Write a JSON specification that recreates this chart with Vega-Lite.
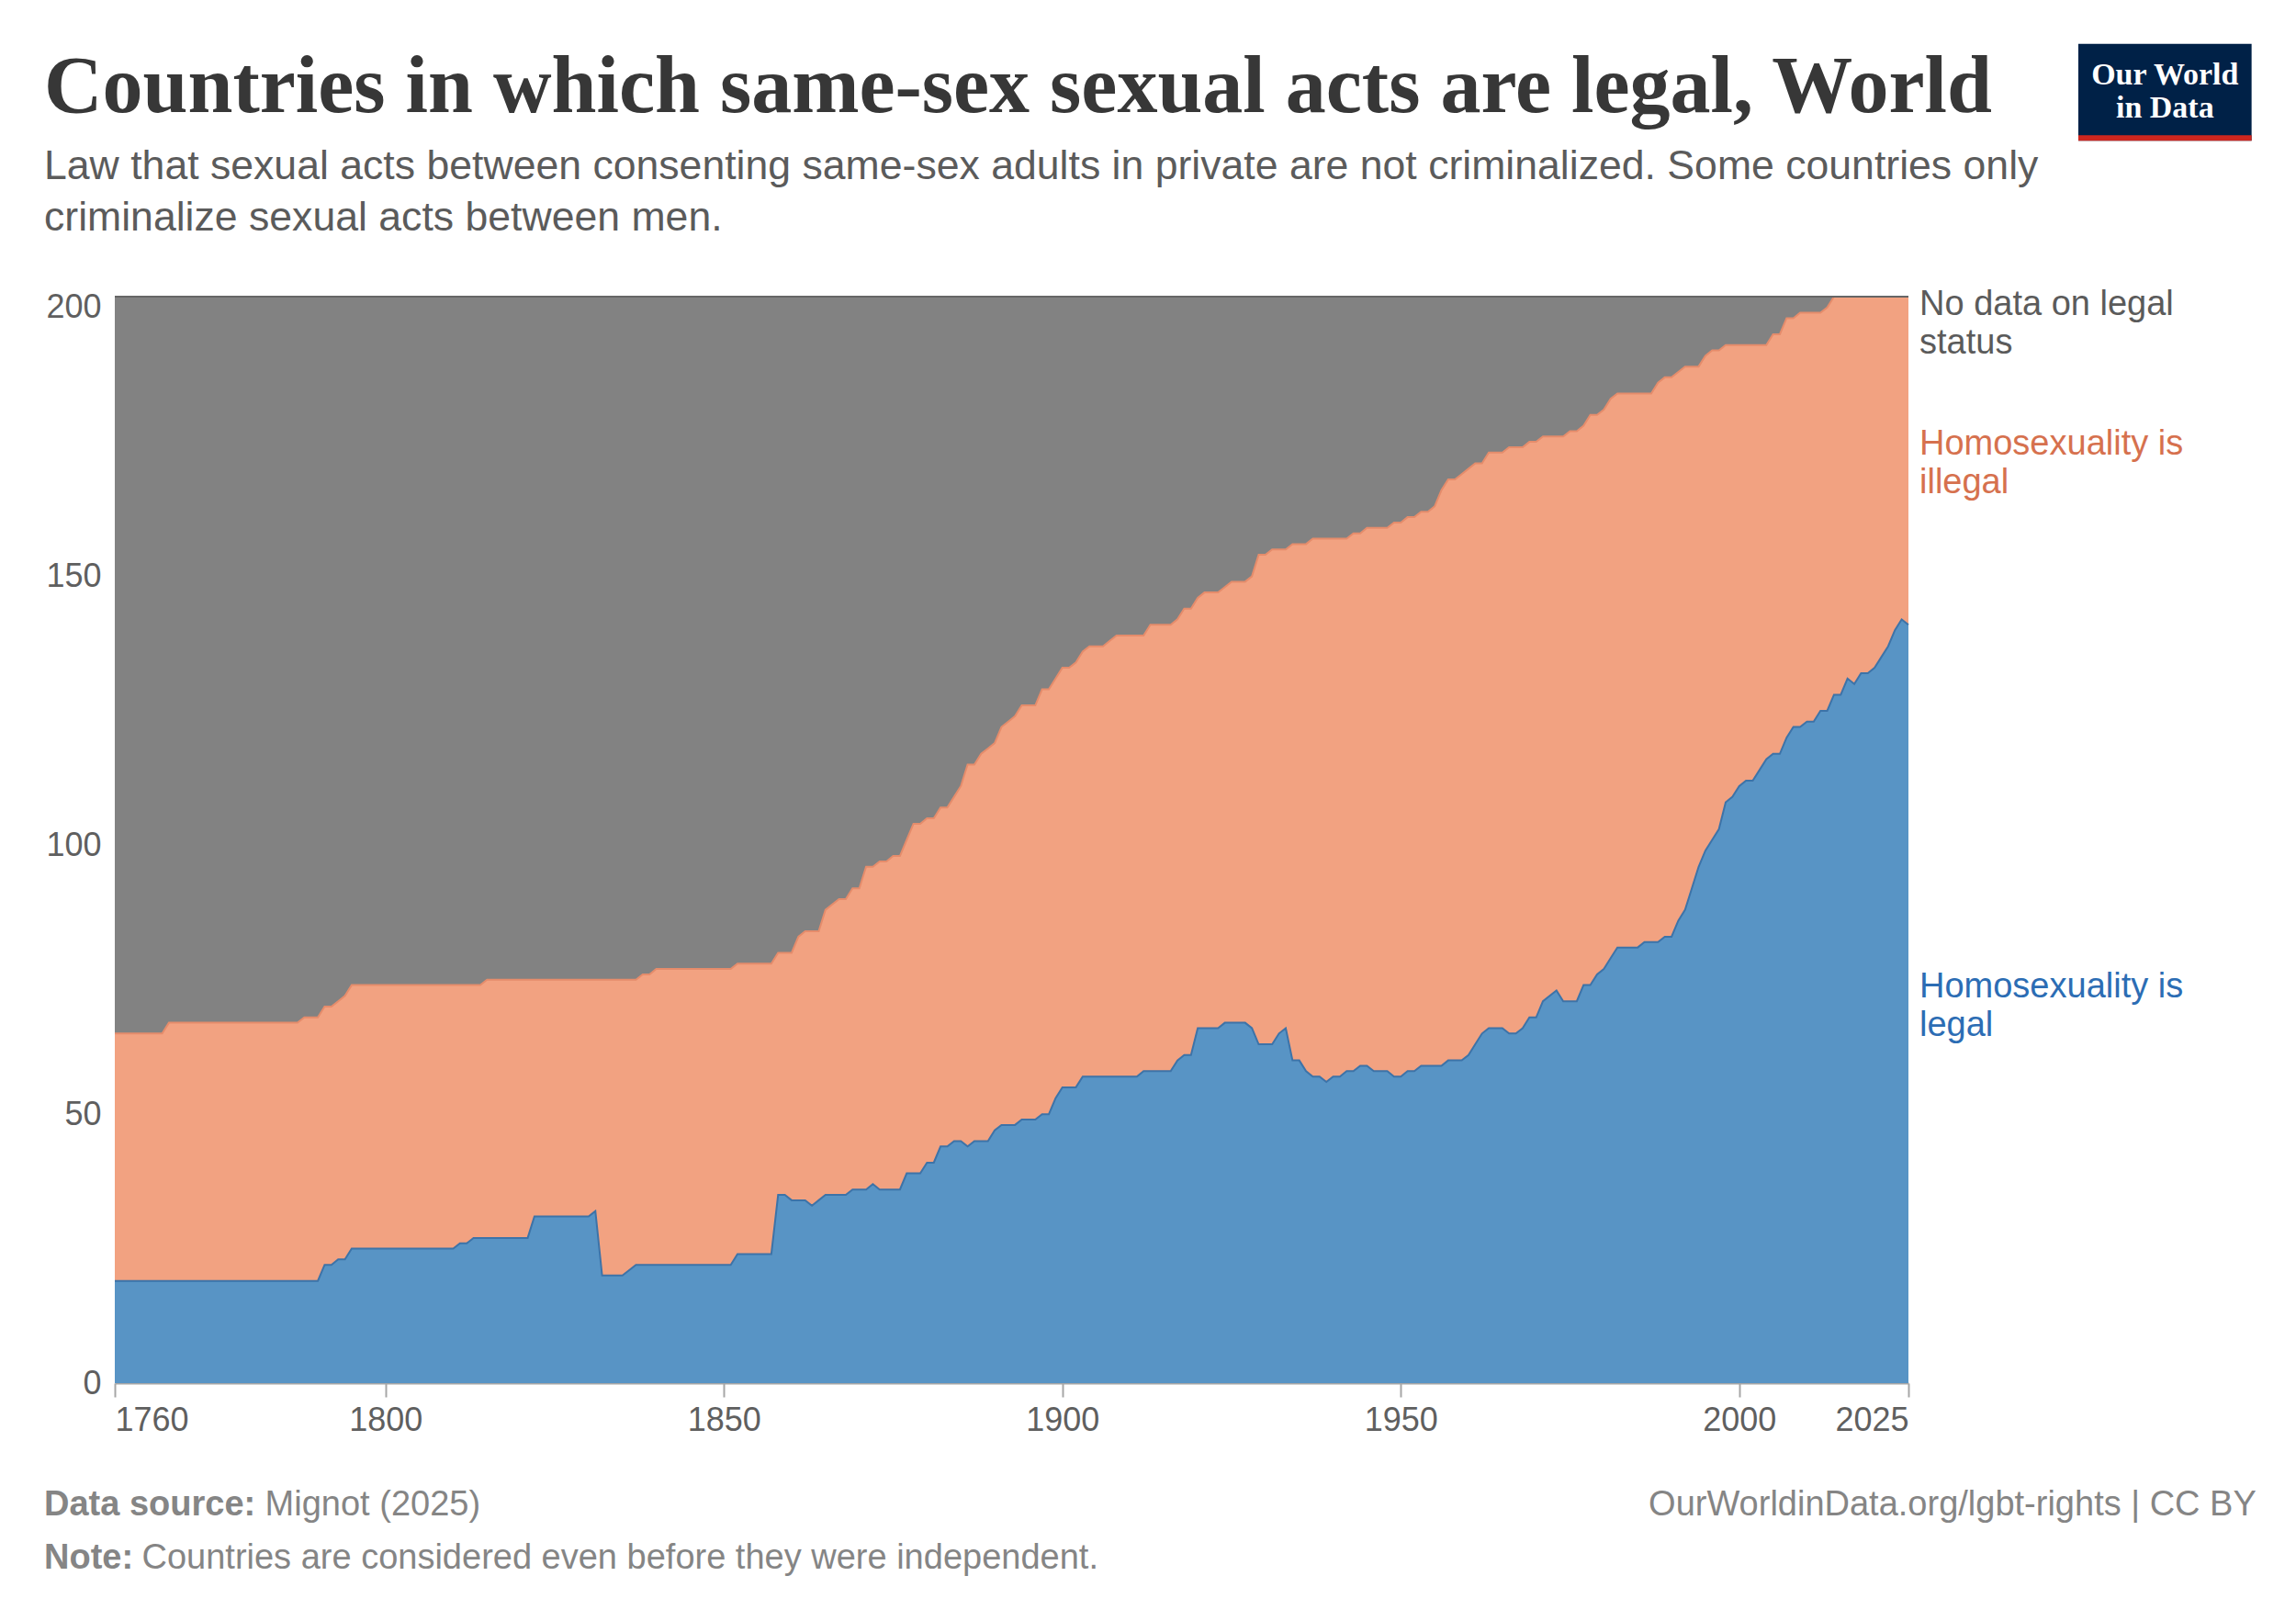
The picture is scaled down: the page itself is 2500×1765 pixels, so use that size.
{
  "$schema": "https://vega.github.io/schema/vega-lite/v6.json",
  "width": 1953,
  "height": 1183,
  "autosize": "none",
  "padding": {"left": 125, "top": 323, "right": 422, "bottom": 259},
  "background": "white",
  "config": {
    "view": {"stroke": null},
    "font": "Liberation Sans",
    "axis": {"labelFont": "Liberation Sans", "labelFontSize": 36, "labelColor": "#5f5f5f"},
    "axisX": {"grid": false, "domainColor": "#a6a6a6", "domainWidth": 2, "tickColor": "#a6a6a6", "tickWidth": 2, "tickSize": 15, "labelPadding": 8, "labelFlush": true, "labelOverlap": false},
    "axisY": {"domain": false, "ticks": false, "labelPadding": 15, "gridDash": [11, 11], "gridColor": "#000000", "gridOpacity": 0.1, "zindex": 1}
  },
  "title": {
    "text": "Countries in which same-sex sexual acts are legal, World",
    "subtitle": ["Law that sexual acts between consenting same-sex adults in private are not criminalized. Some countries only", "criminalize sexual acts between men."],
    "anchor": "start",
    "frame": "group",
    "dx": -77,
    "dy": 212,
    "offset": 0,
    "font": "Liberation Serif",
    "fontSize": 88,
    "fontWeight": "bold",
    "color": "#373737",
    "subtitleFont": "Liberation Sans",
    "subtitleFontSize": 44.6,
    "subtitleColor": "#5b5b5b",
    "subtitleLineHeight": 56,
    "subtitlePadding": 20
  },
  "datasets": {
    "rows": [
      {"year": 1760, "legal": 19, "illegal": 46, "nodata": 137},
      {"year": 1761, "legal": 19, "illegal": 46, "nodata": 137},
      {"year": 1762, "legal": 19, "illegal": 46, "nodata": 137},
      {"year": 1763, "legal": 19, "illegal": 46, "nodata": 137},
      {"year": 1764, "legal": 19, "illegal": 46, "nodata": 137},
      {"year": 1765, "legal": 19, "illegal": 46, "nodata": 137},
      {"year": 1766, "legal": 19, "illegal": 46, "nodata": 137},
      {"year": 1767, "legal": 19, "illegal": 46, "nodata": 137},
      {"year": 1768, "legal": 19, "illegal": 48, "nodata": 135},
      {"year": 1769, "legal": 19, "illegal": 48, "nodata": 135},
      {"year": 1770, "legal": 19, "illegal": 48, "nodata": 135},
      {"year": 1771, "legal": 19, "illegal": 48, "nodata": 135},
      {"year": 1772, "legal": 19, "illegal": 48, "nodata": 135},
      {"year": 1773, "legal": 19, "illegal": 48, "nodata": 135},
      {"year": 1774, "legal": 19, "illegal": 48, "nodata": 135},
      {"year": 1775, "legal": 19, "illegal": 48, "nodata": 135},
      {"year": 1776, "legal": 19, "illegal": 48, "nodata": 135},
      {"year": 1777, "legal": 19, "illegal": 48, "nodata": 135},
      {"year": 1778, "legal": 19, "illegal": 48, "nodata": 135},
      {"year": 1779, "legal": 19, "illegal": 48, "nodata": 135},
      {"year": 1780, "legal": 19, "illegal": 48, "nodata": 135},
      {"year": 1781, "legal": 19, "illegal": 48, "nodata": 135},
      {"year": 1782, "legal": 19, "illegal": 48, "nodata": 135},
      {"year": 1783, "legal": 19, "illegal": 48, "nodata": 135},
      {"year": 1784, "legal": 19, "illegal": 48, "nodata": 135},
      {"year": 1785, "legal": 19, "illegal": 48, "nodata": 135},
      {"year": 1786, "legal": 19, "illegal": 48, "nodata": 135},
      {"year": 1787, "legal": 19, "illegal": 48, "nodata": 135},
      {"year": 1788, "legal": 19, "illegal": 49, "nodata": 134},
      {"year": 1789, "legal": 19, "illegal": 49, "nodata": 134},
      {"year": 1790, "legal": 19, "illegal": 49, "nodata": 134},
      {"year": 1791, "legal": 22, "illegal": 48, "nodata": 132},
      {"year": 1792, "legal": 22, "illegal": 48, "nodata": 132},
      {"year": 1793, "legal": 23, "illegal": 48, "nodata": 131},
      {"year": 1794, "legal": 23, "illegal": 49, "nodata": 130},
      {"year": 1795, "legal": 25, "illegal": 49, "nodata": 128},
      {"year": 1796, "legal": 25, "illegal": 49, "nodata": 128},
      {"year": 1797, "legal": 25, "illegal": 49, "nodata": 128},
      {"year": 1798, "legal": 25, "illegal": 49, "nodata": 128},
      {"year": 1799, "legal": 25, "illegal": 49, "nodata": 128},
      {"year": 1800, "legal": 25, "illegal": 49, "nodata": 128},
      {"year": 1801, "legal": 25, "illegal": 49, "nodata": 128},
      {"year": 1802, "legal": 25, "illegal": 49, "nodata": 128},
      {"year": 1803, "legal": 25, "illegal": 49, "nodata": 128},
      {"year": 1804, "legal": 25, "illegal": 49, "nodata": 128},
      {"year": 1805, "legal": 25, "illegal": 49, "nodata": 128},
      {"year": 1806, "legal": 25, "illegal": 49, "nodata": 128},
      {"year": 1807, "legal": 25, "illegal": 49, "nodata": 128},
      {"year": 1808, "legal": 25, "illegal": 49, "nodata": 128},
      {"year": 1809, "legal": 25, "illegal": 49, "nodata": 128},
      {"year": 1810, "legal": 25, "illegal": 49, "nodata": 128},
      {"year": 1811, "legal": 26, "illegal": 48, "nodata": 128},
      {"year": 1812, "legal": 26, "illegal": 48, "nodata": 128},
      {"year": 1813, "legal": 27, "illegal": 47, "nodata": 128},
      {"year": 1814, "legal": 27, "illegal": 47, "nodata": 128},
      {"year": 1815, "legal": 27, "illegal": 48, "nodata": 127},
      {"year": 1816, "legal": 27, "illegal": 48, "nodata": 127},
      {"year": 1817, "legal": 27, "illegal": 48, "nodata": 127},
      {"year": 1818, "legal": 27, "illegal": 48, "nodata": 127},
      {"year": 1819, "legal": 27, "illegal": 48, "nodata": 127},
      {"year": 1820, "legal": 27, "illegal": 48, "nodata": 127},
      {"year": 1821, "legal": 27, "illegal": 48, "nodata": 127},
      {"year": 1822, "legal": 31, "illegal": 44, "nodata": 127},
      {"year": 1823, "legal": 31, "illegal": 44, "nodata": 127},
      {"year": 1824, "legal": 31, "illegal": 44, "nodata": 127},
      {"year": 1825, "legal": 31, "illegal": 44, "nodata": 127},
      {"year": 1826, "legal": 31, "illegal": 44, "nodata": 127},
      {"year": 1827, "legal": 31, "illegal": 44, "nodata": 127},
      {"year": 1828, "legal": 31, "illegal": 44, "nodata": 127},
      {"year": 1829, "legal": 31, "illegal": 44, "nodata": 127},
      {"year": 1830, "legal": 31, "illegal": 44, "nodata": 127},
      {"year": 1831, "legal": 32, "illegal": 43, "nodata": 127},
      {"year": 1832, "legal": 20, "illegal": 55, "nodata": 127},
      {"year": 1833, "legal": 20, "illegal": 55, "nodata": 127},
      {"year": 1834, "legal": 20, "illegal": 55, "nodata": 127},
      {"year": 1835, "legal": 20, "illegal": 55, "nodata": 127},
      {"year": 1836, "legal": 21, "illegal": 54, "nodata": 127},
      {"year": 1837, "legal": 22, "illegal": 53, "nodata": 127},
      {"year": 1838, "legal": 22, "illegal": 54, "nodata": 126},
      {"year": 1839, "legal": 22, "illegal": 54, "nodata": 126},
      {"year": 1840, "legal": 22, "illegal": 55, "nodata": 125},
      {"year": 1841, "legal": 22, "illegal": 55, "nodata": 125},
      {"year": 1842, "legal": 22, "illegal": 55, "nodata": 125},
      {"year": 1843, "legal": 22, "illegal": 55, "nodata": 125},
      {"year": 1844, "legal": 22, "illegal": 55, "nodata": 125},
      {"year": 1845, "legal": 22, "illegal": 55, "nodata": 125},
      {"year": 1846, "legal": 22, "illegal": 55, "nodata": 125},
      {"year": 1847, "legal": 22, "illegal": 55, "nodata": 125},
      {"year": 1848, "legal": 22, "illegal": 55, "nodata": 125},
      {"year": 1849, "legal": 22, "illegal": 55, "nodata": 125},
      {"year": 1850, "legal": 22, "illegal": 55, "nodata": 125},
      {"year": 1851, "legal": 22, "illegal": 55, "nodata": 125},
      {"year": 1852, "legal": 24, "illegal": 54, "nodata": 124},
      {"year": 1853, "legal": 24, "illegal": 54, "nodata": 124},
      {"year": 1854, "legal": 24, "illegal": 54, "nodata": 124},
      {"year": 1855, "legal": 24, "illegal": 54, "nodata": 124},
      {"year": 1856, "legal": 24, "illegal": 54, "nodata": 124},
      {"year": 1857, "legal": 24, "illegal": 54, "nodata": 124},
      {"year": 1858, "legal": 35, "illegal": 45, "nodata": 122},
      {"year": 1859, "legal": 35, "illegal": 45, "nodata": 122},
      {"year": 1860, "legal": 34, "illegal": 46, "nodata": 122},
      {"year": 1861, "legal": 34, "illegal": 49, "nodata": 119},
      {"year": 1862, "legal": 34, "illegal": 50, "nodata": 118},
      {"year": 1863, "legal": 33, "illegal": 51, "nodata": 118},
      {"year": 1864, "legal": 34, "illegal": 50, "nodata": 118},
      {"year": 1865, "legal": 35, "illegal": 53, "nodata": 114},
      {"year": 1866, "legal": 35, "illegal": 54, "nodata": 113},
      {"year": 1867, "legal": 35, "illegal": 55, "nodata": 112},
      {"year": 1868, "legal": 35, "illegal": 55, "nodata": 112},
      {"year": 1869, "legal": 36, "illegal": 56, "nodata": 110},
      {"year": 1870, "legal": 36, "illegal": 56, "nodata": 110},
      {"year": 1871, "legal": 36, "illegal": 60, "nodata": 106},
      {"year": 1872, "legal": 37, "illegal": 59, "nodata": 106},
      {"year": 1873, "legal": 36, "illegal": 61, "nodata": 105},
      {"year": 1874, "legal": 36, "illegal": 61, "nodata": 105},
      {"year": 1875, "legal": 36, "illegal": 62, "nodata": 104},
      {"year": 1876, "legal": 36, "illegal": 62, "nodata": 104},
      {"year": 1877, "legal": 39, "illegal": 62, "nodata": 101},
      {"year": 1878, "legal": 39, "illegal": 65, "nodata": 98},
      {"year": 1879, "legal": 39, "illegal": 65, "nodata": 98},
      {"year": 1880, "legal": 41, "illegal": 64, "nodata": 97},
      {"year": 1881, "legal": 41, "illegal": 64, "nodata": 97},
      {"year": 1882, "legal": 44, "illegal": 63, "nodata": 95},
      {"year": 1883, "legal": 44, "illegal": 63, "nodata": 95},
      {"year": 1884, "legal": 45, "illegal": 64, "nodata": 93},
      {"year": 1885, "legal": 45, "illegal": 66, "nodata": 91},
      {"year": 1886, "legal": 44, "illegal": 71, "nodata": 87},
      {"year": 1887, "legal": 45, "illegal": 70, "nodata": 87},
      {"year": 1888, "legal": 45, "illegal": 72, "nodata": 85},
      {"year": 1889, "legal": 45, "illegal": 73, "nodata": 84},
      {"year": 1890, "legal": 47, "illegal": 72, "nodata": 83},
      {"year": 1891, "legal": 48, "illegal": 74, "nodata": 80},
      {"year": 1892, "legal": 48, "illegal": 75, "nodata": 79},
      {"year": 1893, "legal": 48, "illegal": 76, "nodata": 78},
      {"year": 1894, "legal": 49, "illegal": 77, "nodata": 76},
      {"year": 1895, "legal": 49, "illegal": 77, "nodata": 76},
      {"year": 1896, "legal": 49, "illegal": 77, "nodata": 76},
      {"year": 1897, "legal": 50, "illegal": 79, "nodata": 73},
      {"year": 1898, "legal": 50, "illegal": 79, "nodata": 73},
      {"year": 1899, "legal": 53, "illegal": 78, "nodata": 71},
      {"year": 1900, "legal": 55, "illegal": 78, "nodata": 69},
      {"year": 1901, "legal": 55, "illegal": 78, "nodata": 69},
      {"year": 1902, "legal": 55, "illegal": 79, "nodata": 68},
      {"year": 1903, "legal": 57, "illegal": 79, "nodata": 66},
      {"year": 1904, "legal": 57, "illegal": 80, "nodata": 65},
      {"year": 1905, "legal": 57, "illegal": 80, "nodata": 65},
      {"year": 1906, "legal": 57, "illegal": 80, "nodata": 65},
      {"year": 1907, "legal": 57, "illegal": 81, "nodata": 64},
      {"year": 1908, "legal": 57, "illegal": 82, "nodata": 63},
      {"year": 1909, "legal": 57, "illegal": 82, "nodata": 63},
      {"year": 1910, "legal": 57, "illegal": 82, "nodata": 63},
      {"year": 1911, "legal": 57, "illegal": 82, "nodata": 63},
      {"year": 1912, "legal": 58, "illegal": 81, "nodata": 63},
      {"year": 1913, "legal": 58, "illegal": 83, "nodata": 61},
      {"year": 1914, "legal": 58, "illegal": 83, "nodata": 61},
      {"year": 1915, "legal": 58, "illegal": 83, "nodata": 61},
      {"year": 1916, "legal": 58, "illegal": 83, "nodata": 61},
      {"year": 1917, "legal": 60, "illegal": 82, "nodata": 60},
      {"year": 1918, "legal": 61, "illegal": 83, "nodata": 58},
      {"year": 1919, "legal": 61, "illegal": 83, "nodata": 58},
      {"year": 1920, "legal": 66, "illegal": 80, "nodata": 56},
      {"year": 1921, "legal": 66, "illegal": 81, "nodata": 55},
      {"year": 1922, "legal": 66, "illegal": 81, "nodata": 55},
      {"year": 1923, "legal": 66, "illegal": 81, "nodata": 55},
      {"year": 1924, "legal": 67, "illegal": 81, "nodata": 54},
      {"year": 1925, "legal": 67, "illegal": 82, "nodata": 53},
      {"year": 1926, "legal": 67, "illegal": 82, "nodata": 53},
      {"year": 1927, "legal": 67, "illegal": 82, "nodata": 53},
      {"year": 1928, "legal": 66, "illegal": 84, "nodata": 52},
      {"year": 1929, "legal": 63, "illegal": 91, "nodata": 48},
      {"year": 1930, "legal": 63, "illegal": 91, "nodata": 48},
      {"year": 1931, "legal": 63, "illegal": 92, "nodata": 47},
      {"year": 1932, "legal": 65, "illegal": 90, "nodata": 47},
      {"year": 1933, "legal": 66, "illegal": 89, "nodata": 47},
      {"year": 1934, "legal": 60, "illegal": 96, "nodata": 46},
      {"year": 1935, "legal": 60, "illegal": 96, "nodata": 46},
      {"year": 1936, "legal": 58, "illegal": 98, "nodata": 46},
      {"year": 1937, "legal": 57, "illegal": 100, "nodata": 45},
      {"year": 1938, "legal": 57, "illegal": 100, "nodata": 45},
      {"year": 1939, "legal": 56, "illegal": 101, "nodata": 45},
      {"year": 1940, "legal": 57, "illegal": 100, "nodata": 45},
      {"year": 1941, "legal": 57, "illegal": 100, "nodata": 45},
      {"year": 1942, "legal": 58, "illegal": 99, "nodata": 45},
      {"year": 1943, "legal": 58, "illegal": 100, "nodata": 44},
      {"year": 1944, "legal": 59, "illegal": 99, "nodata": 44},
      {"year": 1945, "legal": 59, "illegal": 100, "nodata": 43},
      {"year": 1946, "legal": 58, "illegal": 101, "nodata": 43},
      {"year": 1947, "legal": 58, "illegal": 101, "nodata": 43},
      {"year": 1948, "legal": 58, "illegal": 101, "nodata": 43},
      {"year": 1949, "legal": 57, "illegal": 103, "nodata": 42},
      {"year": 1950, "legal": 57, "illegal": 103, "nodata": 42},
      {"year": 1951, "legal": 58, "illegal": 103, "nodata": 41},
      {"year": 1952, "legal": 58, "illegal": 103, "nodata": 41},
      {"year": 1953, "legal": 59, "illegal": 103, "nodata": 40},
      {"year": 1954, "legal": 59, "illegal": 103, "nodata": 40},
      {"year": 1955, "legal": 59, "illegal": 104, "nodata": 39},
      {"year": 1956, "legal": 59, "illegal": 107, "nodata": 36},
      {"year": 1957, "legal": 60, "illegal": 108, "nodata": 34},
      {"year": 1958, "legal": 60, "illegal": 108, "nodata": 34},
      {"year": 1959, "legal": 60, "illegal": 109, "nodata": 33},
      {"year": 1960, "legal": 61, "illegal": 109, "nodata": 32},
      {"year": 1961, "legal": 63, "illegal": 108, "nodata": 31},
      {"year": 1962, "legal": 65, "illegal": 106, "nodata": 31},
      {"year": 1963, "legal": 66, "illegal": 107, "nodata": 29},
      {"year": 1964, "legal": 66, "illegal": 107, "nodata": 29},
      {"year": 1965, "legal": 66, "illegal": 107, "nodata": 29},
      {"year": 1966, "legal": 65, "illegal": 109, "nodata": 28},
      {"year": 1967, "legal": 65, "illegal": 109, "nodata": 28},
      {"year": 1968, "legal": 66, "illegal": 108, "nodata": 28},
      {"year": 1969, "legal": 68, "illegal": 107, "nodata": 27},
      {"year": 1970, "legal": 68, "illegal": 107, "nodata": 27},
      {"year": 1971, "legal": 71, "illegal": 105, "nodata": 26},
      {"year": 1972, "legal": 72, "illegal": 104, "nodata": 26},
      {"year": 1973, "legal": 73, "illegal": 103, "nodata": 26},
      {"year": 1974, "legal": 71, "illegal": 105, "nodata": 26},
      {"year": 1975, "legal": 71, "illegal": 106, "nodata": 25},
      {"year": 1976, "legal": 71, "illegal": 106, "nodata": 25},
      {"year": 1977, "legal": 74, "illegal": 104, "nodata": 24},
      {"year": 1978, "legal": 74, "illegal": 106, "nodata": 22},
      {"year": 1979, "legal": 76, "illegal": 104, "nodata": 22},
      {"year": 1980, "legal": 77, "illegal": 104, "nodata": 21},
      {"year": 1981, "legal": 79, "illegal": 104, "nodata": 19},
      {"year": 1982, "legal": 81, "illegal": 103, "nodata": 18},
      {"year": 1983, "legal": 81, "illegal": 103, "nodata": 18},
      {"year": 1984, "legal": 81, "illegal": 103, "nodata": 18},
      {"year": 1985, "legal": 81, "illegal": 103, "nodata": 18},
      {"year": 1986, "legal": 82, "illegal": 102, "nodata": 18},
      {"year": 1987, "legal": 82, "illegal": 102, "nodata": 18},
      {"year": 1988, "legal": 82, "illegal": 104, "nodata": 16},
      {"year": 1989, "legal": 83, "illegal": 104, "nodata": 15},
      {"year": 1990, "legal": 83, "illegal": 104, "nodata": 15},
      {"year": 1991, "legal": 86, "illegal": 102, "nodata": 14},
      {"year": 1992, "legal": 88, "illegal": 101, "nodata": 13},
      {"year": 1993, "legal": 92, "illegal": 97, "nodata": 13},
      {"year": 1994, "legal": 96, "illegal": 93, "nodata": 13},
      {"year": 1995, "legal": 99, "illegal": 92, "nodata": 11},
      {"year": 1996, "legal": 101, "illegal": 91, "nodata": 10},
      {"year": 1997, "legal": 103, "illegal": 89, "nodata": 10},
      {"year": 1998, "legal": 108, "illegal": 85, "nodata": 9},
      {"year": 1999, "legal": 109, "illegal": 84, "nodata": 9},
      {"year": 2000, "legal": 111, "illegal": 82, "nodata": 9},
      {"year": 2001, "legal": 112, "illegal": 81, "nodata": 9},
      {"year": 2002, "legal": 112, "illegal": 81, "nodata": 9},
      {"year": 2003, "legal": 114, "illegal": 79, "nodata": 9},
      {"year": 2004, "legal": 116, "illegal": 77, "nodata": 9},
      {"year": 2005, "legal": 117, "illegal": 78, "nodata": 7},
      {"year": 2006, "legal": 117, "illegal": 78, "nodata": 7},
      {"year": 2007, "legal": 120, "illegal": 78, "nodata": 4},
      {"year": 2008, "legal": 122, "illegal": 76, "nodata": 4},
      {"year": 2009, "legal": 122, "illegal": 77, "nodata": 3},
      {"year": 2010, "legal": 123, "illegal": 76, "nodata": 3},
      {"year": 2011, "legal": 123, "illegal": 76, "nodata": 3},
      {"year": 2012, "legal": 125, "illegal": 74, "nodata": 3},
      {"year": 2013, "legal": 125, "illegal": 75, "nodata": 2},
      {"year": 2014, "legal": 128, "illegal": 74, "nodata": 0},
      {"year": 2015, "legal": 128, "illegal": 74, "nodata": 0},
      {"year": 2016, "legal": 131, "illegal": 71, "nodata": 0},
      {"year": 2017, "legal": 130, "illegal": 72, "nodata": 0},
      {"year": 2018, "legal": 132, "illegal": 70, "nodata": 0},
      {"year": 2019, "legal": 132, "illegal": 70, "nodata": 0},
      {"year": 2020, "legal": 133, "illegal": 69, "nodata": 0},
      {"year": 2021, "legal": 135, "illegal": 67, "nodata": 0},
      {"year": 2022, "legal": 137, "illegal": 65, "nodata": 0},
      {"year": 2023, "legal": 140, "illegal": 62, "nodata": 0},
      {"year": 2024, "legal": 142, "illegal": 60, "nodata": 0},
      {"year": 2025, "legal": 141, "illegal": 61, "nodata": 0}
    ]
  },
  "layer": [
    {
      "data": {"name": "rows"},
      "transform": [
        {"fold": ["legal", "illegal", "nodata"], "as": ["status", "n"]},
        {"lookup": "status", "from": {"data": {"values": [
          {"status": "legal", "rank": 1, "label": "Homosexuality is\nlegal"},
          {"status": "illegal", "rank": 2, "label": "Homosexuality is\nillegal"},
          {"status": "nodata", "rank": 3, "label": "No data on legal\nstatus"}
        ]}, "key": "status", "fields": ["rank", "label"]}},
        {"stack": "n", "groupby": ["year"], "sort": [{"field": "rank", "order": "ascending"}], "as": ["lo", "hi"]}
      ],
      "layer": [
        {
          "mark": {"type": "area", "interpolate": "linear"},
          "encoding": {
            "x": {"field": "year", "type": "quantitative", "title": null, "scale": {"domain": [1760, 2025], "nice": false, "zero": false}, "axis": {"values": [1760, 1800, 1850, 1900, 1950, 2000, 2025], "format": "d"}},
            "y": {"field": "hi", "type": "quantitative", "title": null, "scale": {"domain": [0, 202], "nice": false}, "axis": {"values": [0, 50, 100, 150, 200]}},
            "y2": {"field": "lo"},
            "color": {"field": "status", "type": "nominal", "scale": {"domain": ["legal", "illegal", "nodata"], "range": ["#5894c5", "#f2a281", "#828282"]}, "legend": null}
          }
        },
        {
          "mark": {"type": "line", "strokeWidth": 2, "interpolate": "linear"},
          "encoding": {
            "x": {"field": "year", "type": "quantitative", "title": null},
            "y": {"field": "hi", "type": "quantitative", "title": null},
            "stroke": {"field": "status", "type": "nominal", "scale": {"domain": ["legal", "illegal", "nodata"], "range": ["#3d73a8", "#e58c6b", "#666666"]}, "legend": null}
          }
        },
        {
          "transform": [
            {"filter": "datum.year == 2025 && datum.status != 'nodata'"},
            {"calculate": "(datum.lo + datum.hi) / 2", "as": "mid"}
          ],
          "mark": {"type": "text", "align": "left", "baseline": "middle", "dx": 12, "dy": -18, "fontSize": 38, "lineHeight": 42, "lineBreak": "\n", "font": "Liberation Sans"},
          "encoding": {
            "x": {"field": "year", "type": "quantitative", "title": null},
            "y": {"field": "mid", "type": "quantitative", "title": null},
            "text": {"field": "label"},
            "fill": {"field": "status", "type": "nominal", "scale": {"domain": ["legal", "illegal", "nodata"], "range": ["#2c6db4", "#d6714e", "#5b5b5b"]}, "legend": null}
          }
        },
        {
          "transform": [
            {"filter": "datum.year == 2025 && datum.status == 'nodata'"}
          ],
          "mark": {"type": "text", "align": "left", "baseline": "top", "dx": 12, "dy": -10, "fontSize": 38, "lineHeight": 42, "lineBreak": "\n", "font": "Liberation Sans"},
          "encoding": {
            "x": {"field": "year", "type": "quantitative", "title": null},
            "y": {"field": "hi", "type": "quantitative", "title": null},
            "text": {"field": "label"},
            "fill": {"field": "status", "type": "nominal", "legend": null}
          }
        }
      ]
    },
    {
      "data": {"values": [{}]},
      "mark": {"type": "rect", "color": "#002147"},
      "encoding": {
        "x": {"datum": 2050.1, "type": "quantitative", "title": null},
        "x2": {"datum": 2075.7},
        "y": {"datum": 249.0, "type": "quantitative", "title": null},
        "y2": {"datum": 231.0}
      }
    },
    {
      "data": {"values": [{}]},
      "mark": {"type": "rect", "color": "#ce261e"},
      "encoding": {
        "x": {"datum": 2050.1, "type": "quantitative", "title": null},
        "x2": {"datum": 2075.7},
        "y": {"datum": 232.0, "type": "quantitative", "title": null},
        "y2": {"datum": 231.0}
      }
    },
    {
      "data": {"values": [{"t": "Our World", "v": 241.5}, {"t": "in Data", "v": 235.3}]},
      "mark": {"type": "text", "align": "center", "baseline": "alphabetic", "font": "Liberation Serif", "fontSize": 34, "fontWeight": 600, "color": "white"},
      "encoding": {
        "x": {"datum": 2062.9, "type": "quantitative", "title": null},
        "y": {"field": "v", "type": "quantitative", "title": null},
        "text": {"field": "t"}
      }
    },
    {
      "data": {"values": [{"t": "Data source:", "v": -24.6, "s": 1749.55}, {"t": "Note:", "v": -34.5, "s": 1749.55}]},
      "mark": {"type": "text", "align": "left", "baseline": "alphabetic", "fontSize": 38, "fontWeight": "bold", "color": "#858585"},
      "encoding": {
        "x": {"field": "s", "type": "quantitative", "title": null},
        "y": {"field": "v", "type": "quantitative", "title": null},
        "text": {"field": "t"}
      }
    },
    {
      "data": {"values": [{"t": "Mignot (2025)", "v": -24.6, "s": 1782.2}, {"t": "Countries are considered even before they were independent.", "v": -34.5, "s": 1764.0}]},
      "mark": {"type": "text", "align": "left", "baseline": "alphabetic", "fontSize": 38, "color": "#858585"},
      "encoding": {
        "x": {"field": "s", "type": "quantitative", "title": null},
        "y": {"field": "v", "type": "quantitative", "title": null},
        "text": {"field": "t"}
      }
    },
    {
      "data": {"values": [{}]},
      "mark": {"type": "text", "align": "right", "baseline": "alphabetic", "fontSize": 38, "color": "#858585", "text": "OurWorldinData.org/lgbt-rights | CC BY"},
      "encoding": {
        "x": {"datum": 2076.4, "type": "quantitative", "title": null},
        "y": {"datum": -24.6, "type": "quantitative", "title": null}
      }
    }
  ]
}
